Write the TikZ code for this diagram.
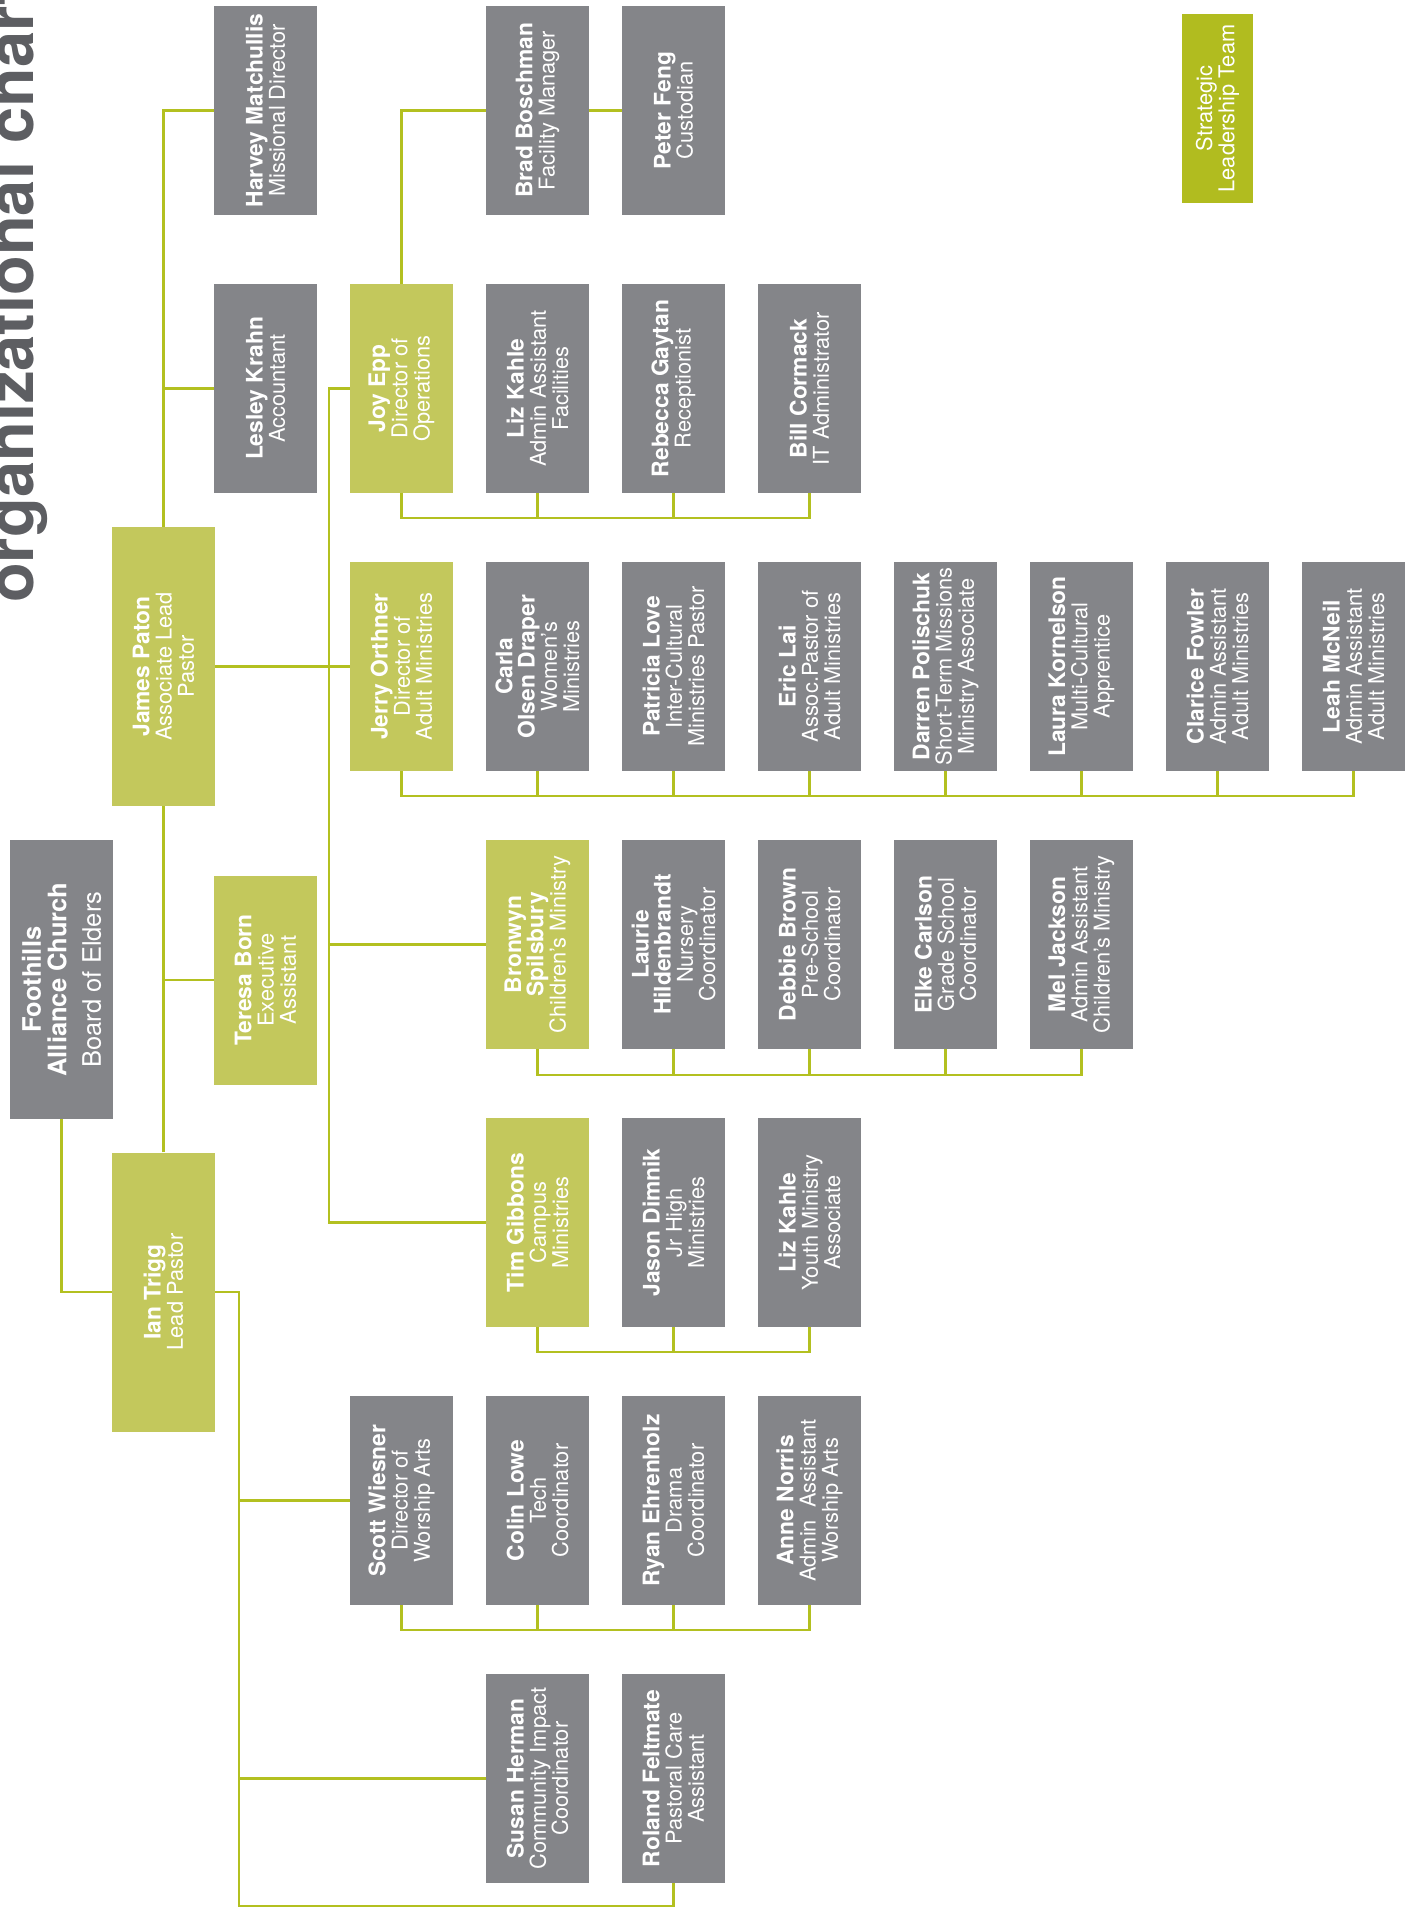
\documentclass[tikz,border=0pt]{standalone}
\usepackage{fontspec}
\setmainfont{TeX Gyre Heros}
\usepackage{xcolor}
\usepackage{tikz}
\definecolor{boxgray}{RGB}{132, 133, 137}
\definecolor{leadgreen}{RGB}{195, 200, 92}
\definecolor{linegreen}{RGB}{179, 192, 32}
\definecolor{teamgreen}{RGB}{177, 188, 31}
\definecolor{titlegray}{RGB}{93, 94, 98}
\usetikzlibrary{positioning, calc}

\newcommand{\who}[1]{{\fontsize{22.8}{22.2}\selectfont\bfseries #1}}

\tikzset{
    person/.style={rectangle, fill=boxgray, text=white, rotate=90, inner sep=0pt,
                   minimum width=209pt, minimum height=103pt, align=center,
                   font=\fontsize{21.8}{22.2}\selectfont},
    leader/.style={person, fill=leadgreen},
    tallbox/.style={minimum width=279pt},
    link/.style={draw=linegreen, line width=2.5pt},
}

\begin{document}
\begin{tikzpicture}[x=1pt, y=-1pt]
        \useasboundingbox (0,0) rectangle (1413,1909);

        \node[rotate=90, anchor=base west, inner sep=0pt, text=titlegray,
              font=\fontsize{65}{65}\selectfont\bfseries] (title) at (33,603) {organizational chart};

        \node[person, tallbox, font=\fontsize{25.5}{25.5}\selectfont] (board) at (61.5,979.5)
            {\textbf{Foothills}\\\textbf{Alliance Church}\\[9pt]Board of Elders};
        \node[leader, tallbox] (james) at (163.5,666.5) {\who{James Paton}\\Associate Lead\\Pastor};
        \node[leader, tallbox] (ian) at (163.5,1292) {\who{Ian Trigg}\\Lead Pastor};

        \node[person] (harvey) at (265.5,110.5) {\who{Harvey Matchullis}\\Missional Director};
        \node[person] (lesley) at (265.5,388.5) {\who{Lesley Krahn}\\Accountant};
        \node[leader] (teresa) at (265.5,980) {\who{Teresa Born}\\Executive\\Assistant};

        \node[leader] (joy) at (401.5,388.5) {\who{Joy Epp}\\Director of\\Operations};
        \node[leader] (jerry) at (401.5,666.5) {\who{Jerry Orthner}\\Director of\\Adult Ministries};
        \node[person] (scott) at (401.5,1500.5) {\who{Scott Wiesner}\\Director of\\Worship Arts};

        \node[person] (brad) at (537.5,110.5) {\who{Brad Boschman}\\Facility Manager};
        \node[person] (lizf) at (537.5,388.5) {\who{Liz Kahle}\\Admin Assistant\\Facilities};
        \node[person] (carla) at (537.5,666.5) {\who{Carla}\\\who{Olsen Draper}\\Women’s\\Ministries};
        \node[leader] (bronwyn) at (537.5,944.5) {\who{Bronwyn}\\\who{Spilsbury}\\Children’s Ministry};
        \node[leader] (tim) at (537.5,1222.5) {\who{Tim Gibbons}\\Campus\\Ministries};
        \node[person] (colin) at (537.5,1500.5) {\who{Colin Lowe}\\Tech\\Coordinator};
        \node[person] (susan) at (537.5,1778.5) {\who{Susan Herman}\\Community Impact\\Coordinator};

        \node[person] (peter) at (673.5,110.5) {\who{Peter Feng}\\Custodian};
        \node[person] (rebecca) at (673.5,388.5) {\who{Rebecca Gaytan}\\Receptionist};
        \node[person] (patricia) at (673.5,666.5) {\who{Patricia Love}\\Inter-Cultural\\Ministries Pastor};
        \node[person] (laurie) at (673.5,944.5) {\who{Laurie}\\\who{Hildenbrandt}\\Nursery\\Coordinator};
        \node[person] (jason) at (673.5,1222.5) {\who{Jason Dimnik}\\Jr High\\Ministries};
        \node[person] (ryan) at (673.5,1500.5) {\who{Ryan Ehrenholz}\\Drama\\Coordinator};
        \node[person] (roland) at (673.5,1778.5) {\who{Roland Feltmate}\\Pastoral Care\\Assistant};

        \node[person] (bill) at (809.5,388.5) {\who{Bill Cormack}\\IT Administrator};
        \node[person] (eric) at (809.5,666.5) {\who{Eric Lai}\\Assoc.Pastor of\\Adult Ministries};
        \node[person] (debbie) at (809.5,944.5) {\who{Debbie Brown}\\Pre-School\\Coordinator};
        \node[person] (lizy) at (809.5,1222.5) {\who{Liz Kahle}\\Youth Ministry\\Associate};
        \node[person] (anne) at (809.5,1500.5) {\who{Anne Norris}\\Admin~ Assistant\\Worship Arts};

        \node[person] (darren) at (945.5,666.5) {\who{Darren Polischuk}\\Short-Term Missions\\Ministry Associate};
        \node[person] (elke) at (945.5,944.5) {\who{Elke Carlson}\\Grade School\\Coordinator};
        \node[person] (laura) at (1081.5,666.5) {\who{Laura Kornelson}\\Multi-Cultural\\Apprentice};
        \node[person] (mel) at (1081.5,944.5) {\who{Mel Jackson}\\Admin Assistant\\Children’s Ministry};
        \node[person] (clarice) at (1217.5,666.5) {\who{Clarice Fowler}\\Admin Assistant\\Adult Ministries};
        \node[person] (leah) at (1353.5,666.5) {\who{Leah McNeil}\\Admin Assistant\\Adult Ministries};

        \node[leader, fill=teamgreen, minimum width=189pt, minimum height=71pt] (team) at (1217.5,108.5)
            {Strategic\\Leadership Team};

        % rotated boxes: north = left, south = right, east = top, west = bottom
        \draw[link] (board.west) |- (ian.north);
        \draw[link] (ian.east) -- (james.west);
        \draw[link] (james.east) |- (harvey.north);
        \draw[link] (james.east) |- (lesley.north);
        \draw[link] (james.west) |- (teresa.north);
        \draw[link] (james.south) -- (jerry.north);

        \draw[link] (joy.north) -- ++(-21,0) coordinate (opsline) |- (tim.north);
        \draw[link] (opsline) |- (bronwyn.north);
        \draw[link] (joy.east) |- (brad.north);
        \draw[link] (brad.south) -- (peter.north);

        \draw[link] (joy.west) -- ++(0,25) -| (bill.west);
        \foreach \n in {lizf, rebecca}
            \draw[link] (\n.west) -- ++(0,25);
        \draw[link] (jerry.west) -- ++(0,25) -| (leah.west);
        \foreach \n in {carla, patricia, eric, darren, laura, clarice}
            \draw[link] (\n.west) -- ++(0,25);
        \draw[link] (bronwyn.west) -- ++(0,26) -| (mel.west);
        \foreach \n in {laurie, debbie, elke}
            \draw[link] (\n.west) -- ++(0,26);
        \draw[link] (tim.west) -- ++(0,25) -| (lizy.west);
        \draw[link] (jason.west) -- ++(0,25);

        \draw[link] (ian.south) -- ++(24,0) coordinate (pastorline) |- ($(roland.west)+(0,23)$) -- (roland.west);
        \draw[link] (pastorline) |- (scott.north);
        \draw[link] (pastorline) |- (susan.north);
        \draw[link] (scott.west) -- ++(0,25) -| (anne.west);
        \foreach \n in {colin, ryan}
            \draw[link] (\n.west) -- ++(0,25);
    \end{tikzpicture}
\end{document}
